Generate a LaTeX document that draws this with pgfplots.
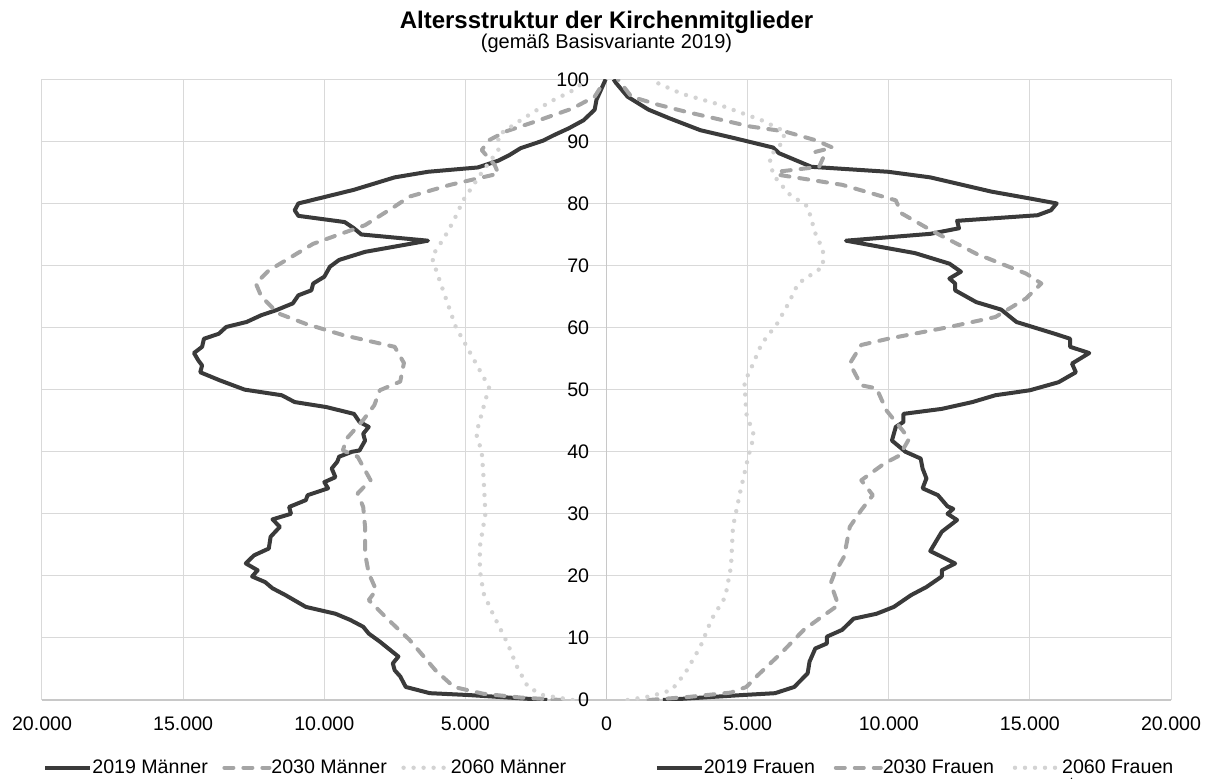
\documentclass[border=0pt]{standalone}
\usepackage{fontspec}
\setmainfont{Liberation Sans}
\usepackage{pgfplots}
\pgfplotsset{compat=1.18}
\definecolor{cA}{HTML}{3A3A3A}
\definecolor{cB}{HTML}{A5A5A5}
\definecolor{cC}{HTML}{D3D3D3}
\definecolor{gridgray}{HTML}{D9D9D9}
\definecolor{axisgray}{HTML}{C8C8C8}
\newcommand{\lbl}[1]{\makebox[65pt][l]{#1}}
\begin{document}
\begin{tikzpicture}
\path[use as bounding box] (-21pt,-39pt) rectangle (587pt,350pt);
\begin{axis}[
  at={(0,0)}, anchor=south west,
  width=564.5pt, height=310.35pt, scale only axis,
  xmin=-20000, xmax=20000, ymin=0, ymax=100,
  axis x line=bottom, axis y line=middle,
  axis line style={-, draw=axisgray, line width=0.8pt},
  xtick={-20000,-15000,-10000,-5000,0,5000,10000,15000,20000},
  xticklabels={20.000,15.000,10.000,5.000,0,5.000,10.000,15.000,20.000},
  ytick={0,10,20,30,40,50,60,70,80,90,100},
  yticklabels={0,10,20,30,40,50,60,70,80,90,100},
  major tick length=0pt,
  grid=major, grid style={gridgray, line width=0.5pt},
  hide obscured x ticks=false, hide obscured y ticks=false,
  xticklabel style={anchor=base, yshift=-15.35pt, font=\fontsize{9.8}{11}\selectfont},
  yticklabel style={anchor=east, inner sep=0pt, xshift=-8.5pt, font=\fontsize{9.8}{11}\selectfont},
  every axis plot/.append style={line join=round},
  legend columns=6,
  legend image code/.code={\draw[#1] (0pt,0pt) -- (22.5pt,0pt);},
  legend style={draw=none, fill=none, inner sep=0pt, column sep=0pt,
    at={(rel axis cs:0,0)}, anchor=north west, xshift=0.5pt, yshift=-29.5pt,
    font=\fontsize{9.8}{11}\selectfont,
    nodes={inner xsep=0pt, inner ysep=0pt, anchor=west, xshift=-3.5pt}},
  legend cell align=left,
]
% 2019 Maenner
\addplot[cA, line width=2pt] coordinates {
(-2100,0) (-4881,0.8) (-6258,1.1) (-7111,2.1) (-7308,3.8) (-7505,4.8) (-7570,5.9) (-7373,7.0)
(-8030,9.4) (-8423,10.7) (-8620,11.8) (-9079,12.9) (-9604,13.9) (-10653,15.0) (-11375,16.9)
(-11834,18.0) (-12096,19.0) (-12556,19.9) (-12359,20.9) (-12779,22.0) (-12490,23.3) (-11965,24.4)
(-11900,26.3) (-11572,27.9) (-11834,29.1) (-11178,30.0) (-11244,31.1) (-10653,32.2) (-10588,33.0)
(-9866,34.1) (-9997,35.1) (-9604,35.9) (-9735,37.3) (-9538,38.4) (-9473,39.2) (-9013,40.0)
(-8751,40.2) (-8554,41.8) (-8620,42.9) (-8423,44.0) (-8751,44.8) (-8948,46.1) (-9932,47.2)
(-11047,48.0) (-11506,49.1) (-12818,50.0) (-13700,51.5) (-14393,52.8) (-14328,53.9) (-14459,54.7)
(-14616,55.9) (-14328,56.9) (-14262,58.2) (-13737,59.0) (-13474,60.1) (-12753,60.9) (-12228,62.0)
(-11703,62.8) (-11113,63.9) (-10916,65.2) (-10457,66.0) (-10391,67.1) (-9997,68.2) (-9800,69.8)
(-9473,70.9) (-8554,72.2) (-6324,74.0) (-8685,75.0) (-8948,76.0) (-9276,77.0) (-10916,78.0)
(-11047,78.9) (-10916,80.0) (-8948,82.2) (-7505,84.2) (-6324,85.1) (-4553,85.8) (-3831,86.9)
(-3437,87.8) (-3044,88.9) (-2257,90.1) (-1863,91.0) (-1338,92.1) (-813,93.4) (-420,95.1)
(-354,96.7) (-30,100)
};
\addlegendentry{\lbl{2019 Männer}}
% 2030 Maenner
\addplot[cB, line width=2pt, line cap=round, dash pattern=on 4.5pt off 5pt] coordinates {
(-1600,0) (-3044,0.4) (-4356,1.0) (-5405,2.1) (-6062,4.8) (-6980,9.7) (-7767,13.1) (-8423,16.1)
(-8160,17.7) (-8423,20.4) (-8554,23.6) (-8554,27.9) (-8620,31.1) (-8817,33.3) (-8358,35.4)
(-8817,39.2) (-9341,40.2) (-9210,42.1) (-8620,45.1) (-8226,47.5) (-8030,49.9) (-7308,51.3)
(-7177,54.3) (-7505,56.9) (-9342,58.8) (-10653,60.6) (-11637,62.3) (-12228,65.0) (-12425,67.1)
(-11965,69.2) (-10391,73.5) (-8554,76.5) (-7505,79.5) (-6980,81.1) (-5536,83.0) (-3831,84.8)
(-3962,86.2) (-4421,88.6) (-4159,90.2) (-3568,91.6) (-2519,93.2) (-1207,95.3) (-420,97.2)
(-100,99.5)
};
\addlegendentry{\lbl{2030 Männer}}
% 2060 Maenner
\addplot[cC, line width=2.2pt, line cap=round, dash pattern=on 0pt off 5pt] coordinates {
(-1200,0) (-2257,0.8) (-2782,2.1) (-3175,5.4) (-3503,9.1) (-4028,13.9) (-4356,17.2) (-4487,20.9)
(-4487,24.7) (-4290,30.0) (-4356,35.9) (-4421,40.0) (-4618,42.9) (-4356,47.2) (-4159,50.4)
(-4356,52.0) (-4946,56.9) (-5340,60.1) (-5668,64.4) (-5996,68.7) (-6192,71.4) (-5733,74.6)
(-5405,77.3) (-5078,80.5) (-4356,85.4) (-3831,88.6) (-3831,91.0) (-3044,93.4) (-1994,96.4)
(-1273,98.0) (-900,99.2)
};
\addlegendentry{\makebox[102pt][l]{2060 Männer}}
% 2019 Frauen
\addplot[cA, line width=2pt] coordinates {
(2000,0) (4819,0.8) (5973,1.1) (6652,2.1) (7127,4.3) (7195,6.2) (7398,8.3) (7806,9.1) (7806,10.2)
(8349,11.3) (8756,13.1) (9571,13.9) (10181,15.0) (10792,16.9) (11335,18.2) (11878,19.9)
(11878,20.9) (12353,22.0) (11471,24.0) (11878,27.1) (12421,29.0) (12082,30.0) (12285,30.8)
(12082,31.2) (11742,33.0) (11199,34.1) (11335,35.7) (11199,37.3) (11131,38.9) (10588,40.0)
(10113,41.8) (10249,44.0) (10521,44.8) (10521,46.1) (11878,46.9) (12964,48.0) (13778,49.1)
(15000,49.9) (16018,51.2) (16629,52.8) (16493,54.2) (17104,55.9) (16425,56.9) (16425,58.2)
(15882,59.0) (14525,60.9) (13982,62.9) (13100,64.1) (12353,66.0) (12353,67.1) (12149,67.9)
(12557,69.0) (12149,70.3) (10928,72.0) (8484,74.0) (11471,75.1) (12489,76.0) (12421,77.2)
(15271,78.1) (15746,78.9) (15950,80.0) (15000,80.8) (13643,81.9) (11471,84.2) (9978,85.1)
(7263,85.9) (6109,88.1) (5905,89.0) (4548,90.5) (3326,91.8) (2240,93.7) (1493,95.1) (747,97.2)
(339,99.4) (250,100)
};
\addlegendentry{\lbl{2019 Frauen}}
% 2030 Frauen
\addplot[cB, line width=2pt, line cap=round, dash pattern=on 4.5pt off 5pt] coordinates {
(1493,0) (2919,0.5) (4412,1.2) (4955,2.1) (5362,4.0) (6177,7.5) (6991,11.3) (7534,13.1)
(8213,15.3) (7941,18.8) (8077,20.4) (8417,23.1) (8620,27.9) (9027,30.6) (9435,33.0) (9027,35.4)
(9842,38.1) (10385,39.4) (10724,42.1) (9910,46.7) (9571,50.2) (9027,50.7) (8620,54.2)
(9027,57.2) (9978,58.2) (12149,60.1) (13778,61.7) (14865,64.7) (15407,67.1) (14865,68.7)
(13100,71.9) (11607,75.4) (10453,78.4) (10249,80.5) (8349,83.0) (6109,84.6) (6041,85.1)
(7534,85.9) (7670,87.3) (7398,88.3) (8009,89.0) (7398,90.2) (6312,91.6) (5091,92.4)
(2783,94.8) (1833,95.9) (882,97.2) (407,100)
};
\addlegendentry{\lbl{2030 Frauen}}
% 2060 Frauen
\addplot[cC, line width=2.2pt, line cap=round, dash pattern=on 0pt off 5pt] coordinates {
(747,0) (1561,0.6) (2308,1.6) (2783,4.3) (3326,8.6) (3733,13.1) (4208,16.6) (4412,21.5)
(4480,27.9) (4751,33.8) (5023,39.2) (5226,42.6) (4955,46.1) (4887,51.2) (5091,53.1) (5498,57.4)
(6041,60.6) (6448,63.9) (6788,67.1) (7670,69.8) (7670,72.5) (7398,75.2) (7127,79.5) (6448,81.6)
(5905,84.6) (5769,87.5) (6245,89.9) (6312,91.6) (5498,93.4) (3869,96.1) (2647,97.7) (1561,99.9)
};
\addlegendentry{2060 Frauen}
\end{axis}
\node[anchor=base, font=\bfseries\fontsize{12}{14}\selectfont] at (282.25pt,335.85pt) {Altersstruktur der Kirchenmitglieder};
\node[anchor=base, font=\fontsize{10}{12}\selectfont] at (282.25pt,325.5pt) {(gemäß Basisvariante 2019)};
\end{tikzpicture}
\end{document}
